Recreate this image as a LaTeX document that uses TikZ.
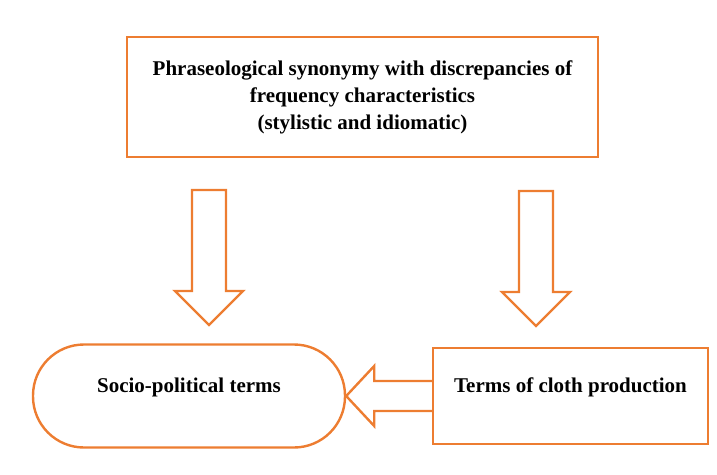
\documentclass[tikz,border=0pt]{standalone}
\usepackage{fontspec}
\setmainfont{LiberationSerif}[Extension=.ttf, UprightFont=*-Regular, BoldFont=*-Bold]
\usetikzlibrary{calc}
\definecolor{laranja}{HTML}{ED7D31}
\tikzset{
  caixa/.style={draw=laranja, line width=2.4pt, fill=white, font=\fontsize{21}{27}\selectfont\bfseries, align=center},
  seta/.style={draw=laranja, line width=2.4pt, fill=white, line join=miter}
}
% seta de bloco para baixo: #1 topo, #2 ponta
\newcommand{\setabaixo}[2]{\draw[seta] ($(#1)+(-17,0)$) -- ($(#2)+(-17,-34)$) -- ($(#2)+(-34,-34)$) -- (#2) -- ($(#2)+(34,-34)$) -- ($(#2)+(17,-34)$) -- ($(#1)+(17,0)$) -- cycle;}
\begin{document}
\begin{tikzpicture}[x=1pt,y=-1pt] %pixels, y para baixo
  \useasboundingbox (0,0) rectangle (717,474);
  %Caixas
  \node[caixa, minimum width=471pt, minimum height=120pt] (sinonimia) at (362.5,97)
    {Phraseological synonymy with discrepancies of\\frequency characteristics\\(stylistic and idiomatic)};
  \node[caixa, rounded corners=51pt, minimum width=312pt, minimum height=103pt, text height=14pt, text depth=22pt] (social) at (189,396)
    {Socio-political terms};
  \node[caixa, minimum width=275pt, minimum height=96pt, text height=14pt, text depth=22pt] (tecido) at (570.5,396)
    {Terms of cloth production};
  %Setas para baixo
  \coordinate (topo1) at (209,190);
  \coordinate (ponta1) at (209,325);
  \coordinate (topo2) at (536,191);
  \coordinate (ponta2) at (536,326);
  \setabaixo{topo1}{ponta1}
  \setabaixo{topo2}{ponta2}
  %Seta horizontal
  \draw[seta] ($(tecido.west)+(0,-15)$) -- ($(social.east)+(28,-15)$) -- ($(social.east)+(28,-30)$) -- (social.east)
    -- ($(social.east)+(28,30)$) -- ($(social.east)+(28,15)$) -- ($(tecido.west)+(0,15)$);
\end{tikzpicture}
\end{document}
